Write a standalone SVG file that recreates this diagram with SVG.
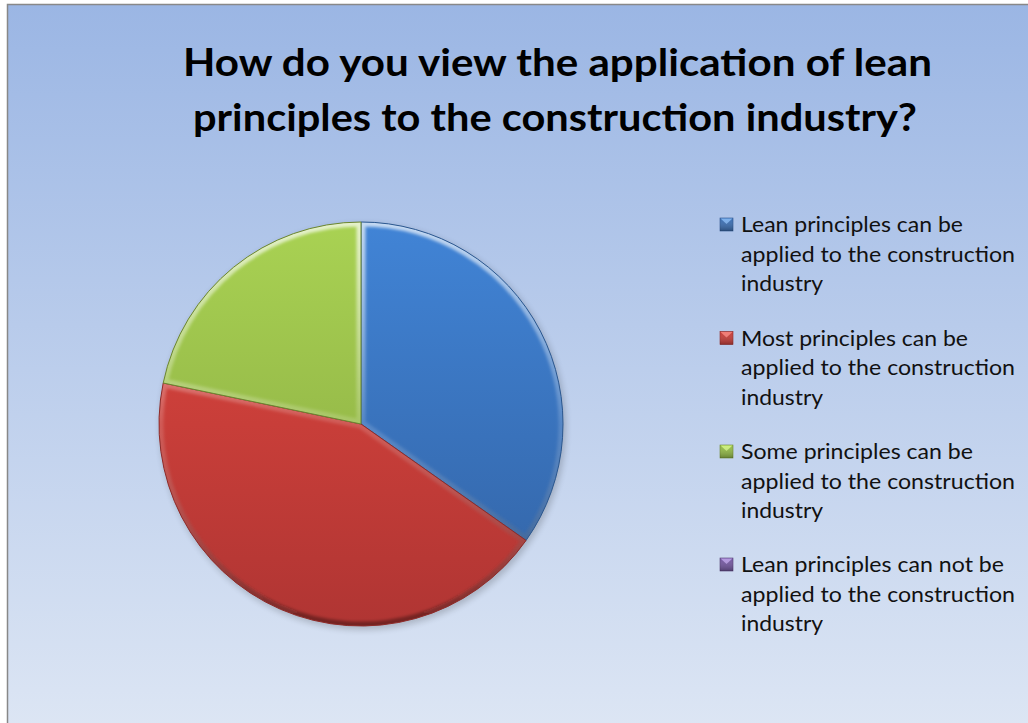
<svg xmlns="http://www.w3.org/2000/svg" width="1028" height="723" viewBox="0 0 1028 723">
  <defs>
    <linearGradient id="bg" x1="0" y1="0" x2="0" y2="1">
      <stop offset="0" stop-color="#9BB6E4"/>
      <stop offset="1" stop-color="#DDE6F4"/>
    </linearGradient>
    <linearGradient id="gBlue" gradientUnits="userSpaceOnUse" x1="0" y1="222" x2="0" y2="626">
      <stop offset="0" stop-color="#4184D6"/>
      <stop offset="1" stop-color="#3262A3"/>
    </linearGradient>
    <linearGradient id="gRed" gradientUnits="userSpaceOnUse" x1="0" y1="222" x2="0" y2="626">
      <stop offset="0" stop-color="#E0473F"/>
      <stop offset="1" stop-color="#B03533"/>
    </linearGradient>
    <linearGradient id="gGreen" gradientUnits="userSpaceOnUse" x1="0" y1="222" x2="0" y2="626">
      <stop offset="0" stop-color="#A9D253"/>
      <stop offset="1" stop-color="#86A640"/>
    </linearGradient>
    <linearGradient id="bevel" gradientUnits="userSpaceOnUse" x1="0" y1="222" x2="0" y2="626">
      <stop offset="0" stop-color="#FFFFFF" stop-opacity="0.7"/>
      <stop offset="0.5" stop-color="#FFFFFF" stop-opacity="0.15"/>
      <stop offset="1" stop-color="#000000" stop-opacity="0.35"/>
    </linearGradient>
    <linearGradient id="mShade" x1="0" y1="0" x2="0" y2="1">
      <stop offset="0" stop-color="#FFFFFF" stop-opacity="0"/>
      <stop offset="1" stop-color="#000000" stop-opacity="0.3"/>
    </linearGradient>
    <filter id="shadow" x="-10%" y="-10%" width="120%" height="120%">
      <feGaussianBlur stdDeviation="3"/>
    </filter>
    <filter id="soft" x="-5%" y="-5%" width="110%" height="110%">
      <feGaussianBlur stdDeviation="1.5"/>
    </filter>
    <clipPath id="cBlue"><path d="M361,424 L361,222 A202,202 0 0 1 526.06,540.44 Z"/></clipPath>
    <clipPath id="cRed"><path d="M361,424 L526.06,540.44 A202,202 0 0 1 163.2,383 Z"/></clipPath>
    <clipPath id="cGreen"><path d="M361,424 L163.2,383 A202,202 0 0 1 361,222 Z"/></clipPath>
  </defs>
  <style>
    .title { font-family: Lato, "Open Sans", "Liberation Sans", sans-serif; font-weight: bold; font-size: 38px; fill: #000; }
    .leg { font-family: Lato, "Open Sans", "Liberation Sans", sans-serif; font-size: 21px; fill: #111; }
    .edge { stroke-linejoin: round; }
    .mk { stroke-width: 0.6; }
  </style>

  <rect x="0" y="0" width="1028" height="723" fill="#FFFFFF"/>
  <rect id="frame" x="7.5" y="4.5" width="1030" height="730" fill="url(#bg)" stroke="#888888" stroke-width="1.5"/>

  <g id="title">
    <text class="title" x="557.5" y="76" text-anchor="middle" textLength="749" lengthAdjust="spacingAndGlyphs">How do you view the application of lean</text>
    <text class="title" x="555" y="131" text-anchor="middle" textLength="724" lengthAdjust="spacingAndGlyphs">principles to the construction industry?</text>
  </g>

  <circle cx="363" cy="427" r="203" fill="#000" opacity="0.18" filter="url(#shadow)"/>

  <g id="slice-lean">
    <path d="M361,424 L361,222 A202,202 0 0 1 526.06,540.44 Z" fill="url(#gBlue)"/>
    <g clip-path="url(#cBlue)"><path d="M361,424 L361,222 A202,202 0 0 1 526.06,540.44 Z" fill="none" stroke="url(#bevel)" stroke-width="9" filter="url(#soft)"/></g>
    <path d="M361,424 L361,222 A202,202 0 0 1 526.06,540.44 Z" fill="none" stroke="#2B578F" stroke-width="1" class="edge"/>
  </g>
  <g id="slice-most">
    <path d="M361,424 L526.06,540.44 A202,202 0 0 1 163.2,383 Z" fill="url(#gRed)"/>
    <g clip-path="url(#cRed)"><path d="M361,424 L526.06,540.44 A202,202 0 0 1 163.2,383 Z" fill="none" stroke="url(#bevel)" stroke-width="9" filter="url(#soft)"/></g>
    <path d="M361,424 L526.06,540.44 A202,202 0 0 1 163.2,383 Z" fill="none" stroke="#8E2B29" stroke-width="1" class="edge"/>
  </g>
  <g id="slice-some">
    <path d="M361,424 L163.2,383 A202,202 0 0 1 361,222 Z" fill="url(#gGreen)"/>
    <g clip-path="url(#cGreen)"><path d="M361,424 L163.2,383 A202,202 0 0 1 361,222 Z" fill="none" stroke="url(#bevel)" stroke-width="9" filter="url(#soft)"/></g>
    <path d="M361,424 L163.2,383 A202,202 0 0 1 361,222 Z" fill="none" stroke="#6B8530" stroke-width="1" class="edge"/>
  </g>

  <g id="connectors"></g>

  <g id="legend-lean">
    <rect x="720" y="218" width="13" height="13" fill="#3C6FB2" stroke="#2B528A" class="mk"/>
    <polygon points="720.5,218.5 732.5,218.5 726.5,224" fill="#7AAEEB"/>
    <rect x="720" y="218" width="13" height="13" fill="url(#mShade)"/>
    <text class="leg" x="741" y="232" textLength="222" lengthAdjust="spacingAndGlyphs">Lean principles can be</text>
    <text class="leg" x="741" y="261.5" textLength="274" lengthAdjust="spacingAndGlyphs">applied to the construction</text>
    <text class="leg" x="741" y="291" textLength="82" lengthAdjust="spacingAndGlyphs">industry</text>
  </g>
  <g id="legend-most">
    <rect x="720" y="331.5" width="13" height="13" fill="#C83E3A" stroke="#8E2B29" class="mk"/>
    <polygon points="720.5,332 732.5,332 726.5,337.5" fill="#F27A74"/>
    <rect x="720" y="331.5" width="13" height="13" fill="url(#mShade)"/>
    <text class="leg" x="741" y="345.5" textLength="227" lengthAdjust="spacingAndGlyphs">Most principles can be</text>
    <text class="leg" x="741" y="375" textLength="274" lengthAdjust="spacingAndGlyphs">applied to the construction</text>
    <text class="leg" x="741" y="404.5" textLength="82" lengthAdjust="spacingAndGlyphs">industry</text>
  </g>
  <g id="legend-some">
    <rect x="720" y="445" width="13" height="13" fill="#93BA47" stroke="#6B8530" class="mk"/>
    <polygon points="720.5,445.5 732.5,445.5 726.5,451" fill="#CBEE7A"/>
    <rect x="720" y="445" width="13" height="13" fill="url(#mShade)"/>
    <text class="leg" x="741" y="459" textLength="232" lengthAdjust="spacingAndGlyphs">Some principles can be</text>
    <text class="leg" x="741" y="488.5" textLength="274" lengthAdjust="spacingAndGlyphs">applied to the construction</text>
    <text class="leg" x="741" y="518" textLength="82" lengthAdjust="spacingAndGlyphs">industry</text>
  </g>
  <g id="legend-not">
    <rect x="720" y="558" width="13" height="13" fill="#7458A0" stroke="#513D72" class="mk"/>
    <polygon points="720.5,558.5 732.5,558.5 726.5,564" fill="#B296DE"/>
    <rect x="720" y="558" width="13" height="13" fill="url(#mShade)"/>
    <text class="leg" x="741" y="572" textLength="263" lengthAdjust="spacingAndGlyphs">Lean principles can not be</text>
    <text class="leg" x="741" y="601.5" textLength="274" lengthAdjust="spacingAndGlyphs">applied to the construction</text>
    <text class="leg" x="741" y="631" textLength="82" lengthAdjust="spacingAndGlyphs">industry</text>
  </g>
</svg>
